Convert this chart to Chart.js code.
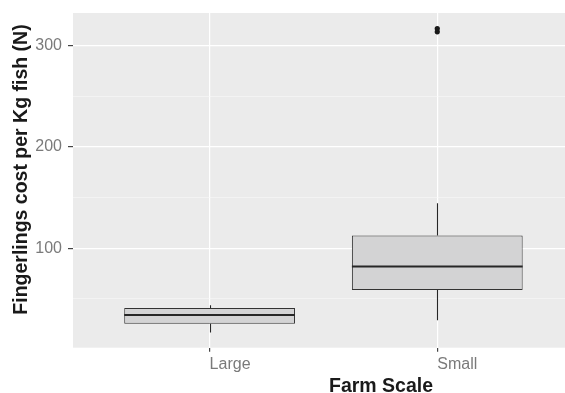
<!DOCTYPE html>
<html>
<head>
<meta charset="utf-8">
<script src="https://cdn.jsdelivr.net/npm/chart.js@4"></script>
<style>
  html, body { margin: 0; padding: 0; background: #fff; }
  #wrap { width: 565px; height: 393px; position: relative; }
</style>
</head>
<body>
<div id="wrap"><canvas id="graficoBoxplot"></canvas></div>
<script>
// data
const farmScales = ['Large', 'Small'];
const whiskerLow = [16.8, 29];
const q1 = [25.4, 58.7];
const median = [34, 81.9];
const q3 = [40.9, 112.6];
const whiskerHigh = [43.6, 144.3];
const outliers = [[], [313.4, 316.6]];
const yTickLabels = [100, 200, 300];

const xTitle = 'Farm Scale';
const yTitle = 'Fingerlings cost per Kg fish (N)';
const fontFamily = '"Liberation Sans", Arial, sans-serif';
const boxWidth = 0.75;

const painel = {
    id: 'painel',
    beforeDraw(chart) {
        const { ctx, chartArea: a } = chart;
        ctx.save();
        ctx.fillStyle = '#EBEBEB';
        ctx.fillRect(a.left, a.top, a.right - a.left, a.bottom - a.top);
        ctx.restore();
    }
};

// whiskers under the boxes, medians on top
const caixas = {
    id: 'caixas',
    beforeDatasetsDraw(chart) {
        const { ctx, scales: { x, y } } = chart;
        ctx.save();
        ctx.strokeStyle = '#262626';
        ctx.lineWidth = 1.1;
        farmScales.forEach((c, i) => {
            const px = Math.round(x.getPixelForValue(i + 1)) + 0.5;
            ctx.beginPath();
            ctx.moveTo(px, y.getPixelForValue(whiskerHigh[i]));
            ctx.lineTo(px, y.getPixelForValue(q3[i]));
            ctx.moveTo(px, y.getPixelForValue(q1[i]));
            ctx.lineTo(px, y.getPixelForValue(whiskerLow[i]));
            ctx.stroke();
        });
        ctx.restore();
    },
    afterDatasetsDraw(chart) {
        const { ctx, scales: { x, y } } = chart;
        ctx.save();
        ctx.strokeStyle = '#262626';
        ctx.lineWidth = 2.1;
        farmScales.forEach((c, i) => {
            const py = y.getPixelForValue(median[i]);
            ctx.beginPath();
            ctx.moveTo(x.getPixelForValue(i + 1 - boxWidth / 2), py);
            ctx.lineTo(x.getPixelForValue(i + 1 + boxWidth / 2), py);
            ctx.stroke();
        });
        ctx.restore();
    },
    afterDraw(chart) {
        const { ctx } = chart;
        ctx.save();
        ctx.fillStyle = '#1a1a1a';
        ctx.font = 'bold 19.5px ' + fontFamily;
        ctx.textAlign = 'center';
        ctx.textBaseline = 'alphabetic';
        ctx.fillText(xTitle, 381, 391.5);
        ctx.translate(26.5, 169.5);
        ctx.rotate(-Math.PI / 2);
        ctx.fillText(yTitle, 0, 0);
        ctx.restore();
    }
};

const ctx = document.getElementById('graficoBoxplot').getContext('2d');
new Chart(ctx, {
    type: 'bar',
    data: {
        datasets: [
            {
                label: 'box',
                data: farmScales.map((c, i) => ({ x: i + 1, y: [q1[i], q3[i]] })),
                backgroundColor: '#D3D3D4',
                borderColor: '#333333',
                borderWidth: 1,
                borderSkipped: false,
                barPercentage: boxWidth,
                categoryPercentage: 1,
                grouped: false
            },
            {
                type: 'scatter',
                label: 'outliers',
                data: outliers.flatMap((vals, i) => vals.map(v => ({ x: i + 1, y: v }))),
                backgroundColor: '#1a1a1a',
                borderColor: '#1a1a1a',
                pointRadius: 2.6,
                pointBorderWidth: 0
            }
        ]
    },
    options: {
        responsive: true,
        maintainAspectRatio: false,
        animation: false,
        devicePixelRatio: 1,
        layout: { autoPadding: false, padding: { top: 13, left: 0, right: 0, bottom: 0 } },
        plugins: { legend: { display: false }, tooltip: { enabled: false } },
        scales: {
            x: {
                type: 'linear',
                min: 0.4,
                max: 2.561,
                offset: false,
                afterBuildTicks: (scale) => { scale.ticks = farmScales.map((c, i) => ({ value: i + 1 })); },
                afterFit: (scale) => {
                    scale.height = 45.3;
                    scale.paddingLeft = 0;
                    scale.paddingRight = 0;
                },
                border: { display: false },
                grid: { offset: false, color: '#FFFFFF', lineWidth: 1.2, tickColor: '#444444', tickLength: 4 },
                ticks: {
                    align: 'start',
                    padding: 3,
                    color: '#7a7a7a',
                    font: { family: fontFamily, size: 16 },
                    callback: (v) => farmScales[v - 1]
                }
            },
            y: {
                min: 1.8,
                max: 332,
                afterBuildTicks: (scale) => {
                    const t = [];
                    for (let v = 50; v <= 300; v += 50) t.push({ value: v });
                    scale.ticks = t;
                },
                afterFit: (scale) => {
                    scale.width = 73;
                    scale.paddingTop = 0;
                    scale.paddingBottom = 0;
                },
                border: { display: false },
                grid: {
                    color: (c) => yTickLabels.includes(c.tick && c.tick.value) ? '#FFFFFF' : '#F8F8F8',
                    lineWidth: (c) => yTickLabels.includes(c.tick && c.tick.value) ? 1.2 : 0.6,
                    tickColor: (c) => yTickLabels.includes(c.tick && c.tick.value) ? '#444444' : 'rgba(0,0,0,0)',
                    tickLength: 5
                },
                ticks: {
                    padding: 6,
                    color: '#7a7a7a',
                    font: { family: fontFamily, size: 16 },
                    callback: (v) => yTickLabels.includes(v) ? String(v) : ''
                }
            }
        }
    },
    plugins: [painel, caixas]
});
</script>
</body>
</html>
